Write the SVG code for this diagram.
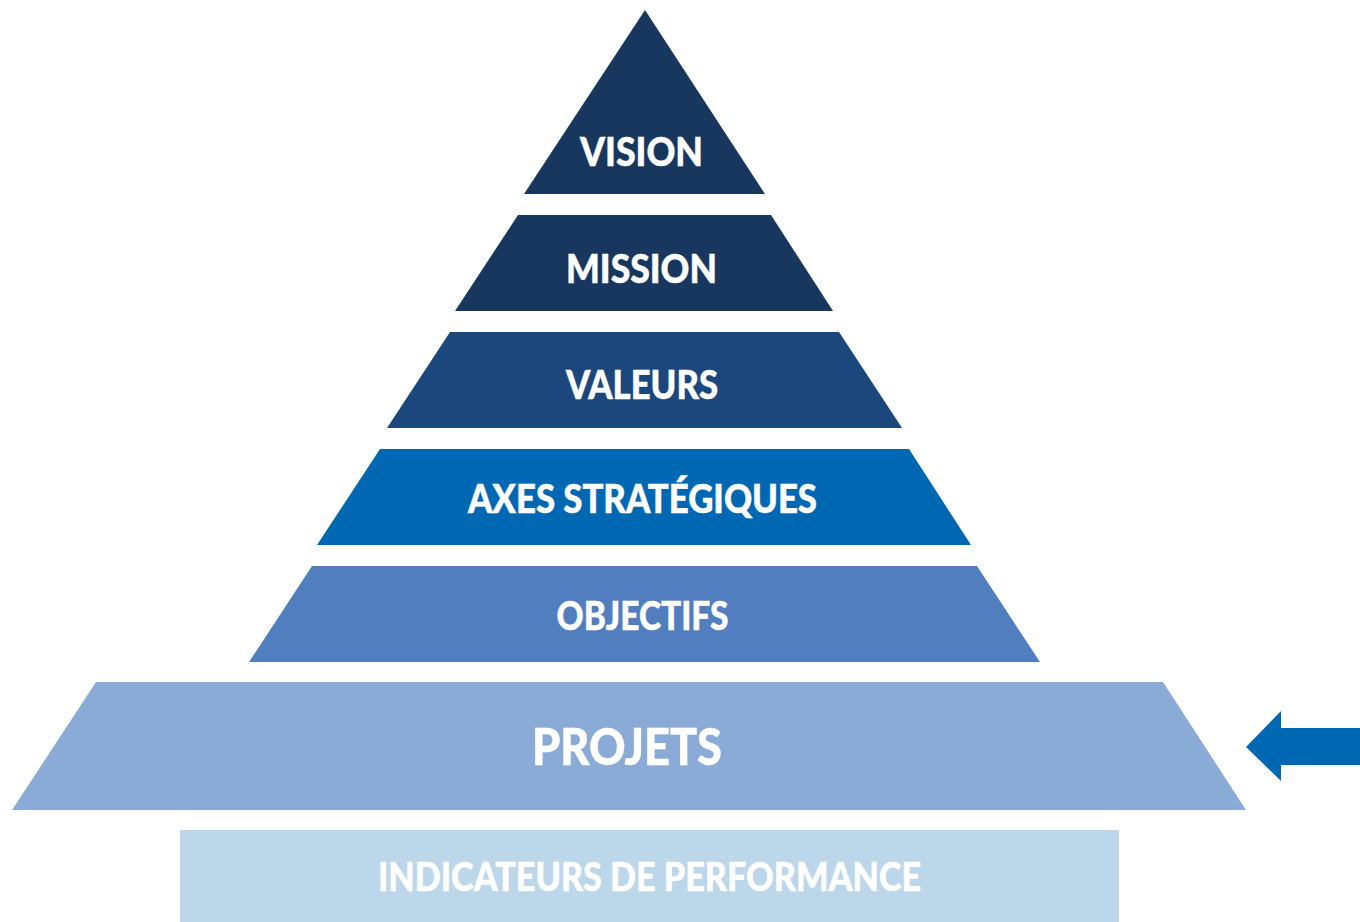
<svg xmlns="http://www.w3.org/2000/svg" width="1360" height="922" viewBox="0 0 1360 922">
<style>
.lbl{font-family:Lato,"Open Sans","Liberation Sans",sans-serif;font-weight:900;fill:#ffffff;stroke:#ffffff;stroke-width:0.5;text-anchor:middle}
.s{font-size:39px}
.b{font-size:52px}
</style>
<rect width="1360" height="922" fill="#ffffff"/>
<g id="vision">
<polygon points="645,10 765,194 524,194" fill="#17375E"/>
<text class="lbl s" x="641.5" y="166" textLength="123" lengthAdjust="spacingAndGlyphs">VISION</text>
</g>
<g id="mission">
<polygon points="518,215 771,215 833,311 455,311" fill="#17375E"/>
<text class="lbl s" x="641.5" y="283" textLength="151" lengthAdjust="spacingAndGlyphs">MISSION</text>
</g>
<g id="valeurs">
<polygon points="450,332 839,332 902,428 387,428" fill="#1B477C"/>
<text class="lbl s" x="642" y="399" textLength="152" lengthAdjust="spacingAndGlyphs">VALEURS</text>
</g>
<g id="axes">
<polygon points="380,449 909,449 971,545 317,545" fill="#0068B3"/>
<text class="lbl s" x="642.5" y="513" textLength="349" lengthAdjust="spacingAndGlyphs">AXES STRATÉGIQUES</text>
</g>
<g id="objectifs">
<polygon points="312,566 977,566 1040,662 249,662" fill="#517EBF"/>
<text class="lbl s" x="642.5" y="630" textLength="172" lengthAdjust="spacingAndGlyphs">OBJECTIFS</text>
</g>
<g id="projets">
<polygon points="96,682 1163,682 1246,810 12,810" fill="#8AABD6"/>
<text class="lbl b" x="627" y="765" textLength="190" lengthAdjust="spacingAndGlyphs">PROJETS</text>
</g>
<g id="indicateurs">
<rect x="180" y="830" width="939" height="92" fill="#BBD7E9"/>
<text class="lbl s" x="649.5" y="891" textLength="543" lengthAdjust="spacingAndGlyphs">INDICATEURS DE PERFORMANCE</text>
</g>
<g id="connectors">
<polygon points="1246,747 1281,711 1281,728 1360,728 1360,765 1281,765 1281,781" fill="#0068B3"/>
</g>
</svg>
